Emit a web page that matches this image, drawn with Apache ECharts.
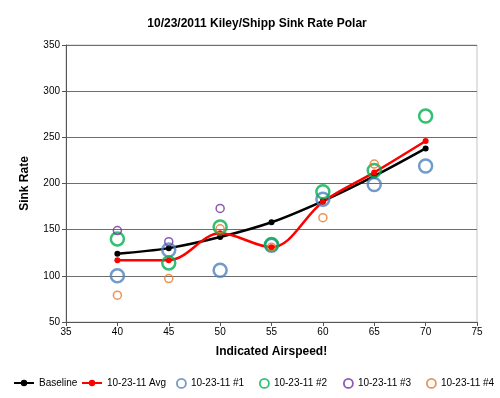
<!DOCTYPE html>
<html>
<head>
<meta charset="utf-8">
<script src="https://cdn.jsdelivr.net/npm/echarts@6/dist/echarts.min.js"></script>
<style>
  html, body { margin: 0; padding: 0; background: #fff; }
  #chart { width: 500px; height: 398px; }
</style>
</head>
<body>
<div id="chart"></div>
<script>
// airspeed points
const speeds = [40, 45, 50, 55, 60, 65, 70];

const baseline = [124, 130, 142, 158, 181, 208, 238];
const avg = [117, 117, 146, 131, 180, 212, 246];
const run1 = [100, 128, 106, 133, 183, 199, 219];
const run2 = [140, 114, 153, 134, 191, 214, 273];
const run3 = [149, 137, 173, null, null, null, null];
const run4 = [79, 97, 151, 131, 163, 221, null];

const FONT = 'Liberation Sans, Arial, sans-serif';
const legendText = { fontFamily: FONT, fontSize: 10, color: '#000' };

function pairs(vals) {
  return speeds.map((x, i) => [x, vals[i]]).filter(p => p[1] != null);
}

function ring(name, color, vals, size, bw) {
  return {
    name,
    type: 'scatter',
    data: pairs(vals),
    symbol: 'circle',
    symbolSize: size,
    itemStyle: { color: 'rgba(255,255,255,0)', borderColor: color, borderWidth: bw },
    z: 3,
  };
}

function line(name, color, vals) {
  return {
    name,
    type: 'line',
    data: pairs(vals),
    smooth: 0.35,
    symbol: 'circle',
    symbolSize: 6,
    lineStyle: { color, width: 2.5 },
    itemStyle: { color },
    z: 2,
  };
}

const lineNames = ['Baseline', '10-23-11 Avg'];
const ringNames = ['10-23-11 #1', '10-23-11 #2', '10-23-11 #3', '10-23-11 #4'];

// one legend per entry so the row lines up like the original
const legendLeft = [8, 76, 171, 254, 338, 421];
const legends = lineNames.concat(ringNames).map((n, i) => ({
  top: 373,
  left: legendLeft[i],
  itemWidth: i < 2 ? 20 : 9,
  itemHeight: i < 2 ? 8 : 9,
  textStyle: legendText,
  data: [i < 2 ? n : { name: n, icon: 'circle', itemStyle: { borderWidth: 1.8 } }],
}));

const chart = echarts.init(document.getElementById('chart'));

chart.setOption({
  animation: false,
  title: {
    text: '10/23/2011 Kiley/Shipp Sink Rate Polar',
    left: 252,
    top: 13,
    textAlign: 'center',
    textStyle: { fontFamily: FONT, fontSize: 12, fontWeight: 'bold', color: '#000' },
  },
  grid: {
    left: 66, right: 23, top: 45, bottom: 76,
    show: true, borderColor: '#c4c4c4', borderWidth: 1,
  },
  legend: legends,
  xAxis: {
    type: 'value',
    min: 35, max: 75, interval: 5,
    name: 'Indicated Airspeed!',
    nameLocation: 'middle',
    nameGap: 24,
    nameTextStyle: { fontFamily: FONT, fontSize: 12, fontWeight: 'bold', color: '#000' },
    axisLine: { lineStyle: { color: '#555', width: 1 } },
    axisTick: { show: true, inside: false, length: 4, lineStyle: { color: '#555' } },
    axisLabel: { fontFamily: FONT, fontSize: 10, color: '#000', margin: 5 },
    splitLine: { show: false },
  },
  yAxis: {
    type: 'value',
    min: 50, max: 350, interval: 50,
    name: 'Sink Rate',
    nameLocation: 'middle',
    nameGap: 35,
    nameTextStyle: { fontFamily: FONT, fontSize: 12, fontWeight: 'bold', color: '#000' },
    axisLine: { show: true, lineStyle: { color: '#555', width: 1 } },
    axisTick: { show: true, inside: false, length: 4, lineStyle: { color: '#555' } },
    axisLabel: { fontFamily: FONT, fontSize: 10, color: '#000', margin: 6 },
    splitLine: { show: true, lineStyle: { color: '#6e6e6e', width: 1 } },
  },
  series: [
    line(lineNames[0], '#000000', baseline),
    line(lineNames[1], '#ff0000', avg),
    ring(ringNames[0], '#4f81bd', run1, 13, 2.5),
    ring(ringNames[1], '#00b050', run2, 13, 2.5),
    ring(ringNames[2], '#7030a0', run3, 8, 1.5),
    ring(ringNames[3], '#e3792c', run4, 8, 1.5),
  ],
});
</script>
</body>
</html>
